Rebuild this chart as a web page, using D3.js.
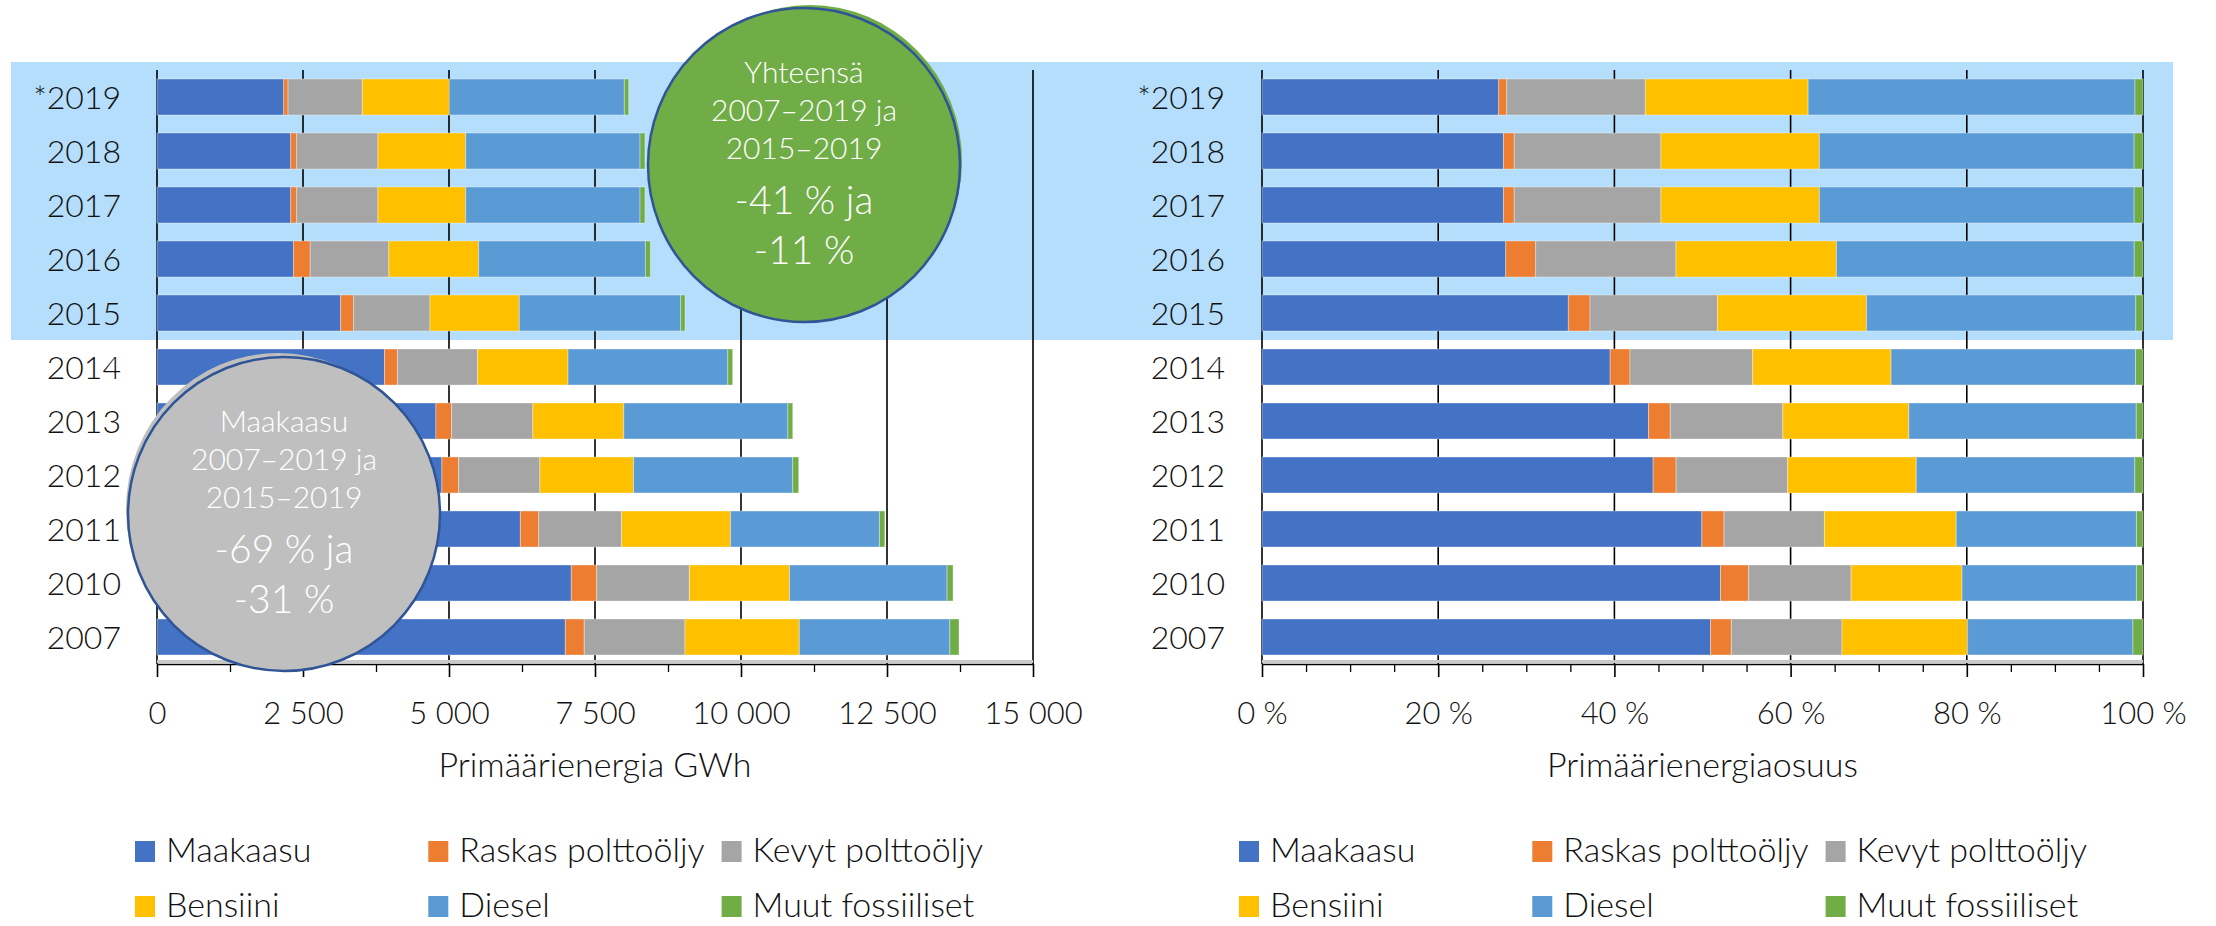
<!DOCTYPE html>
<html>
<head>
<meta charset="utf-8">
<script src="https://cdn.jsdelivr.net/npm/d3@7"></script>
<style>
  body { margin: 0; background: #fff; }
  text { font-family: Lato, 'Open Sans', sans-serif; font-weight: 300; fill: #111; }
</style>
</head>
<body>
<div id="chart"></div>
<script>
var years = ['*2019', '2018', '2017', '2016', '2015', '2014', '2013', '2012', '2011', '2010', '2007'];
var maakaasu = [2170, 2290, 2290, 2337, 3144, 3895, 4776, 4878, 6222, 7094, 6992];
var raskas = [74, 102, 102, 287, 222, 222, 269, 287, 315, 436, 324];
var kevyt = [1271, 1391, 1391, 1345, 1308, 1373, 1391, 1391, 1419, 1585, 1725];
var bensiini = [1492, 1503, 1503, 1539, 1530, 1548, 1557, 1604, 1864, 1716, 1957];
var diesel = [2996, 2985, 2985, 2856, 2763, 2736, 2810, 2726, 2550, 2698, 2578];
var muut = [74, 84, 84, 84, 74, 83, 83, 102, 93, 102, 157];

var seriesNames = ['Maakaasu', 'Raskas polttoöljy', 'Kevyt polttoöljy', 'Bensiini', 'Diesel', 'Muut fossiiliset'];
var seriesValues = [maakaasu, raskas, kevyt, bensiini, diesel, muut];
var colors = ['#4472C4', '#ED7D31', '#A5A5A5', '#FFC000', '#5B9BD5', '#70AD47'];

var gwhTicks = [0, 2500, 5000, 7500, 10000, 12500, 15000];
var pctTicks = [0, 0.2, 0.4, 0.6, 0.8, 1];

var greenText = ['Yhteensä', '2007–2019 ja', '2015–2019', '-41 % ja', '-11 %'];
var grayText = ['Maakaasu', '2007–2019 ja', '2015–2019', '-69 % ja', '-31 %'];

var width = 2216;
var height = 926;
var plotTop = 70;
var plotBottom = 664;

var table = years.map(function(y, i) {
  var row = { year: y };
  seriesNames.forEach(function(s, j) { row[s] = seriesValues[j][i]; });
  return row;
});

var fi = d3.formatLocale({ decimal: ',', thousands: ' ', grouping: [3], currency: ['', ' €'] });

var svg = d3.select('#chart')
  .append('svg')
    .attr('width', width)
    .attr('height', height)
    .style('display', 'block');

var y = d3.scaleBand()
  .domain(years)
  .range([plotTop, plotBottom])
  .paddingInner(1 / 3)
  .paddingOuter(1 / 6);

// highlighted period 2015-2019
svg.append('rect')
  .attr('x', 11)
  .attr('y', 62)
  .attr('width', 2173 - 11)
  .attr('height', y('2015') + y.bandwidth() + y.step() / 6 - 62)
  .attr('fill', '#B4DEFC');

var xL = d3.scaleLinear().domain([0, 15000]).range([157, 1033]);
var xR = d3.scaleLinear().domain([0, 1]).range([1262, 2143]);

var stackAbs = d3.stack().keys(seriesNames)(table);
var stackPct = d3.stack().keys(seriesNames).offset(d3.stackOffsetExpand)(table);

function panel(x, stacked, major, minor, fmt, labelRight, title, legendX) {
  var g = svg.append('g');

  g.selectAll('line.grid')
    .data(major).enter()
    .append('line')
      .attr('x1', d => x(d))
      .attr('x2', d => x(d))
      .attr('y1', plotTop)
      .attr('y2', plotBottom)
      .attr('stroke', '#000')
      .attr('stroke-width', 1.6);

  g.selectAll('g.layer')
    .data(stacked).enter()
    .append('g')
      .attr('fill', (d, i) => colors[i])
    .selectAll('rect')
    .data(d => d).enter()
    .append('rect')
      .attr('x', d => x(d[0]))
      .attr('width', d => Math.max(0, x(d[1]) - x(d[0])))
      .attr('y', d => y(d.data.year))
      .attr('height', y.bandwidth())
      .attr('stroke', '#fff')
      .attr('stroke-opacity', 0.35)
      .attr('stroke-width', 1);

  g.append('line')
    .attr('x1', x.range()[0])
    .attr('x2', x.range()[1])
    .attr('y1', plotBottom - 2.5)
    .attr('y2', plotBottom - 2.5)
    .attr('stroke', '#c9c9c9')
    .attr('stroke-width', 3);

  var axis = g.append('g')
    .attr('transform', 'translate(0,' + plotBottom + ')')
    .call(d3.axisBottom(x).tickValues(major).tickFormat(fmt)
      .tickSize(13).tickSizeOuter(0).tickPadding(25));
  axis.select('.domain').attr('stroke', '#000').attr('stroke-width', 1.6);
  axis.selectAll('.tick line').attr('stroke', '#000').attr('stroke-width', 1.6);
  axis.selectAll('.tick text')
    .attr('fill', null)
    .style('font-size', '31px')
    .style('font-family', null);

  var minorAxis = g.append('g')
    .attr('transform', 'translate(0,' + plotBottom + ')')
    .call(d3.axisBottom(x).tickValues(minor).tickFormat('').tickSize(8));
  minorAxis.select('.domain').remove();
  minorAxis.selectAll('.tick line').attr('stroke', '#000').attr('stroke-width', 1.3);

  g.selectAll('text.cat')
    .data(years).enter()
    .append('text')
      .attr('x', labelRight)
      .attr('y', d => y(d) + y.bandwidth() / 2 + 11.5)
      .attr('text-anchor', 'end')
      .style('font-size', '32px')
      .text(d => d);

  g.append('text')
    .attr('x', (x.range()[0] + x.range()[1]) / 2)
    .attr('y', 777)
    .attr('text-anchor', 'middle')
    .style('font-size', '34px')
    .text(title);

  var leg = g.selectAll('g.leg')
    .data(seriesNames).enter()
    .append('g')
      .attr('transform', (d, i) => 'translate(' + (legendX + (i % 3) * 293.3) + ',' + (841 + Math.floor(i / 3) * 55) + ')');
  leg.append('rect')
    .attr('width', 20)
    .attr('height', 21)
    .attr('fill', (d, i) => colors[i]);
  leg.append('text')
    .attr('x', 31)
    .attr('y', 21)
    .style('font-size', '34px')
    .text(d => d);
}

function minorOf(major) {
  var out = [];
  for (var i = 0; i < major.length - 1; i++) {
    var a = major[i], b = major[i + 1];
    out.push(a + (b - a) / 2);
  }
  return out;
}

var pctMinor = [];
for (var k = 0; k < pctTicks.length - 1; k++) {
  for (var m = 1; m < 4; m++) pctMinor.push(pctTicks[k] + m * 0.05);
}

panel(xL, stackAbs, gwhTicks, minorOf(gwhTicks), fi.format(','), 121, 'Primäärienergia GWh', 135);
panel(xR, stackPct, pctTicks, pctMinor, d => Math.round(d * 100) + ' %', 1225, 'Primäärienergiaosuus', 1239);

function bubble(cx, cy, fill, lines, shift) {
  var b = svg.append('g');
  b.append('ellipse')
    .attr('cx', cx + shift[0])
    .attr('cy', cy + shift[1])
    .attr('rx', 152)
    .attr('ry', 156)
    .attr('fill', fill);
  b.append('ellipse')
    .attr('cx', cx)
    .attr('cy', cy)
    .attr('rx', 156)
    .attr('ry', 157)
    .attr('fill', fill)
    .attr('stroke', '#2F5597')
    .attr('stroke-width', 2.5);
  var base = [-82, -44, -6, 49, 99];
  var sizes = [30, 30, 30, 39, 39];
  b.selectAll('text')
    .data(lines).enter()
    .append('text')
      .attr('x', cx)
      .attr('y', (d, i) => cy + base[i])
      .attr('text-anchor', 'middle')
      .style('fill', '#fff')
      .style('font-size', (d, i) => sizes[i] + 'px')
      .text(d => d);
}

bubble(804, 165, '#70AD47', greenText, [6, -4]);
bubble(284, 514, '#BFBFBF', grayText, [-6, -5]);
</script>
</body>
</html>
